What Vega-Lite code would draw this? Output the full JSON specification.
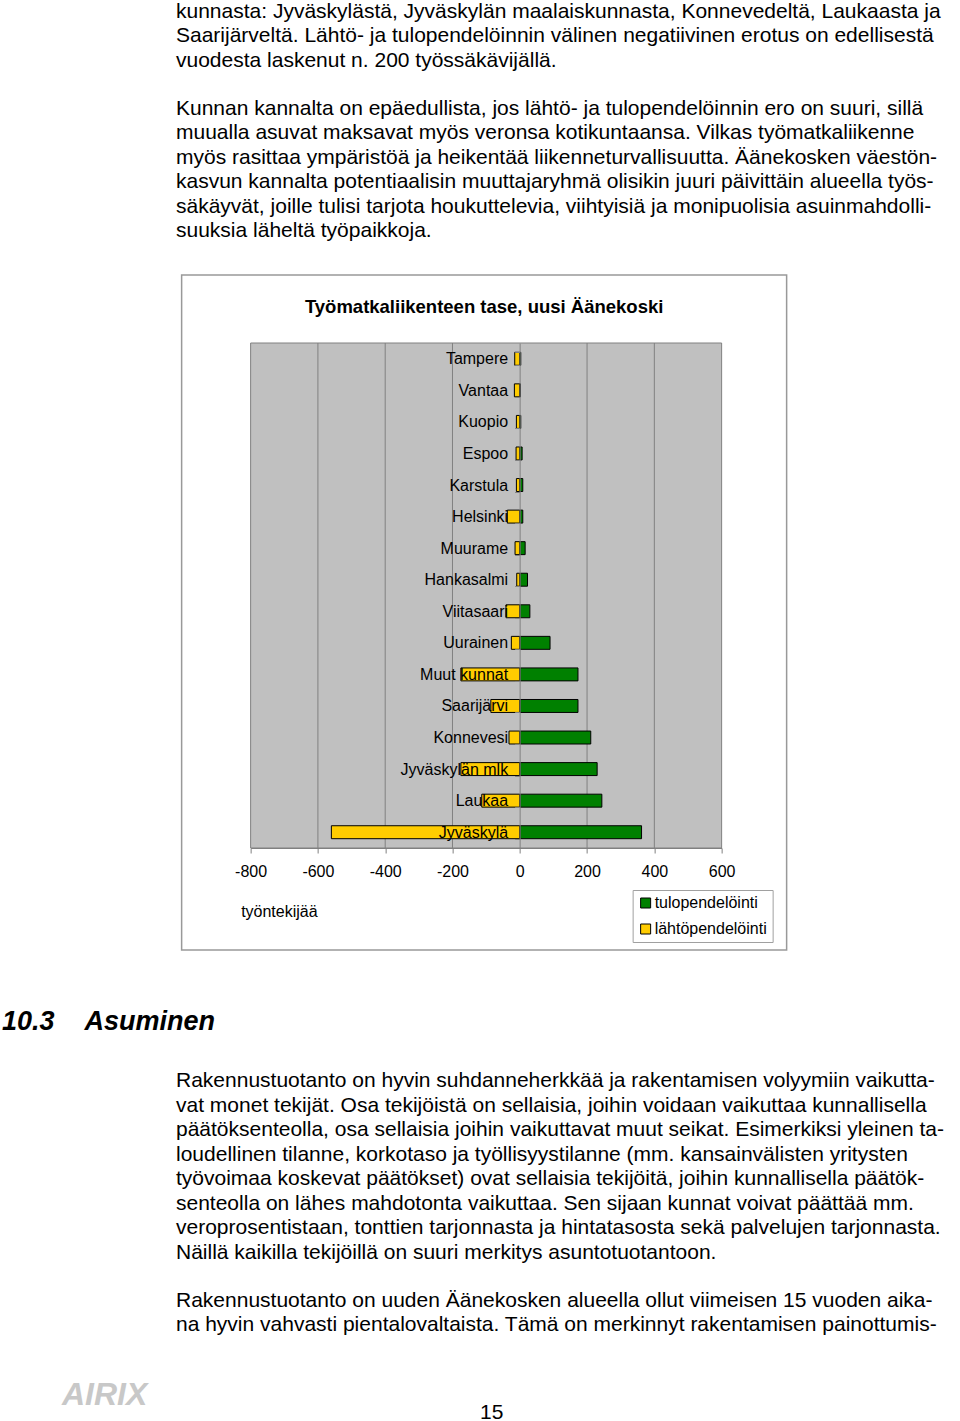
{
  "$schema": "https://vega.github.io/schema/vega-lite/v6.json",
  "background": "white",
  "padding": 0,
  "spacing": 0,
  "center": true,
  "resolve": {"scale": {"color": "independent"}, "legend": {"color": "independent"}},
  "config": {
    "font": "Liberation Sans",
    "view": {"stroke": null},
    "title": {"color": "black", "subtitleColor": "black", "fontWeight": "normal"}
  },
  "vconcat": [
    {
      "width": 960,
      "height": 25,
      "data": {"values": []},
      "mark": "text",
      "encoding": {},
      "title": {
        "text": [
          "kunnasta: Jyväskylästä, Jyväskylän maalaiskunnasta, Konnevedeltä, Laukaasta ja",
          "Saarijärveltä. Lähtö- ja tulopendelöinnin välinen negatiivinen erotus on edellisestä",
          "vuodesta laskenut n. 200 työssäkävijällä."
        ],
        "subtitle": [
          "Kunnan kannalta on epäedullista, jos lähtö- ja tulopendelöinnin ero on suuri, sillä",
          "muualla asuvat maksavat myös veronsa kotikuntaansa. Vilkas työmatkaliikenne",
          "myös rasittaa ympäristöä ja heikentää liikenneturvallisuutta. Äänekosken väestön-",
          "kasvun kannalta potentiaalisin muuttajaryhmä olisikin juuri päivittäin alueella työs-",
          "säkäyvät, joille tulisi tarjota houkuttelevia, viihtyisiä ja monipuolisia asuinmahdolli-",
          "suuksia läheltä työpaikkoja."
        ],
        "orient": "top",
        "anchor": "start",
        "frame": "group",
        "dx": 176,
        "offset": 0,
        "fontSize": 21,
        "lineHeight": 24.5,
        "subtitleFontSize": 21,
        "subtitleLineHeight": 24.5,
        "subtitlePadding": 27
      }
    },
    {
      "spacing": 0,
      "resolve": {"scale": {"color": "independent"}, "legend": {"color": "independent"}},
      "hconcat": [
        {
          "width": 8,
          "height": 1,
          "data": {"values": []},
          "mark": "text",
          "encoding": {}
        },
        {
          "width": 605,
          "height": 675,
          "view": {"stroke": "#999999", "strokeWidth": 1.5},
          "title": {
            "text": "Työmatkaliikenteen tase, uusi Äänekoski",
            "orient": "top",
            "anchor": "middle",
            "offset": -49,
            "fontSize": 18.5,
            "fontWeight": "bold"
          },
          "layer": [
            {
              "data": {"values": [{"alue": "kuvaaja"}]},
              "mark": {"type": "rect", "fill": "#c0c0c0", "stroke": "#808080", "strokeWidth": 1},
              "encoding": {
                "x": {"datum": -800, "type": "quantitative", "scale": {"domain": [-800, 600], "range": [69, 540], "nice": false, "zero": false}},
                "x2": {"datum": 600},
                "y": {"datum": 0, "type": "quantitative", "scale": {"domain": [0, 1], "range": [573, 68]}, "axis": null},
                "y2": {"datum": 1}
              }
            },
            {
              "data": {"values": [{"raja": -600}, {"raja": -400}, {"raja": -200}, {"raja": 200}, {"raja": 400}]},
              "mark": {"type": "rule", "stroke": "#808080", "strokeWidth": 1},
              "encoding": {
                "x": {"field": "raja", "type": "quantitative", "scale": {"domain": [-800, 600], "range": [69, 540], "nice": false, "zero": false}},
                "y": {"datum": 0, "type": "quantitative", "scale": {"domain": [0, 1], "range": [573, 68]}, "axis": null},
                "y2": {"datum": 1}
              }
            },
            {
              "data": {
                "values": [
                  {"kunta": "Tampere", "suunta": "tulopendelöinti", "tyontekijat": 3},
                  {"kunta": "Tampere", "suunta": "lähtöpendelöinti", "tyontekijat": -15},
                  {"kunta": "Vantaa", "suunta": "tulopendelöinti", "tyontekijat": 2},
                  {"kunta": "Vantaa", "suunta": "lähtöpendelöinti", "tyontekijat": -16},
                  {"kunta": "Kuopio", "suunta": "tulopendelöinti", "tyontekijat": 3},
                  {"kunta": "Kuopio", "suunta": "lähtöpendelöinti", "tyontekijat": -10},
                  {"kunta": "Espoo", "suunta": "tulopendelöinti", "tyontekijat": 7},
                  {"kunta": "Espoo", "suunta": "lähtöpendelöinti", "tyontekijat": -11},
                  {"kunta": "Karstula", "suunta": "tulopendelöinti", "tyontekijat": 9},
                  {"kunta": "Karstula", "suunta": "lähtöpendelöinti", "tyontekijat": -10},
                  {"kunta": "Helsinki", "suunta": "tulopendelöinti", "tyontekijat": 9},
                  {"kunta": "Helsinki", "suunta": "lähtöpendelöinti", "tyontekijat": -37},
                  {"kunta": "Muurame", "suunta": "tulopendelöinti", "tyontekijat": 16},
                  {"kunta": "Muurame", "suunta": "lähtöpendelöinti", "tyontekijat": -14},
                  {"kunta": "Hankasalmi", "suunta": "tulopendelöinti", "tyontekijat": 23},
                  {"kunta": "Hankasalmi", "suunta": "lähtöpendelöinti", "tyontekijat": -9},
                  {"kunta": "Viitasaari", "suunta": "tulopendelöinti", "tyontekijat": 30},
                  {"kunta": "Viitasaari", "suunta": "lähtöpendelöinti", "tyontekijat": -41},
                  {"kunta": "Uurainen", "suunta": "tulopendelöinti", "tyontekijat": 90},
                  {"kunta": "Uurainen", "suunta": "lähtöpendelöinti", "tyontekijat": -25},
                  {"kunta": "Muut kunnat", "suunta": "tulopendelöinti", "tyontekijat": 173},
                  {"kunta": "Muut kunnat", "suunta": "lähtöpendelöinti", "tyontekijat": -175},
                  {"kunta": "Saarijärvi", "suunta": "tulopendelöinti", "tyontekijat": 173},
                  {"kunta": "Saarijärvi", "suunta": "lähtöpendelöinti", "tyontekijat": -86},
                  {"kunta": "Konnevesi", "suunta": "tulopendelöinti", "tyontekijat": 211},
                  {"kunta": "Konnevesi", "suunta": "lähtöpendelöinti", "tyontekijat": -32},
                  {"kunta": "Jyväskylän mlk", "suunta": "tulopendelöinti", "tyontekijat": 230},
                  {"kunta": "Jyväskylän mlk", "suunta": "lähtöpendelöinti", "tyontekijat": -175},
                  {"kunta": "Laukaa", "suunta": "tulopendelöinti", "tyontekijat": 244},
                  {"kunta": "Laukaa", "suunta": "lähtöpendelöinti", "tyontekijat": -113},
                  {"kunta": "Jyväskylä", "suunta": "tulopendelöinti", "tyontekijat": 362},
                  {"kunta": "Jyväskylä", "suunta": "lähtöpendelöinti", "tyontekijat": -560}
                ]
              },
              "mark": {"type": "bar", "stroke": "black", "strokeWidth": 1},
              "encoding": {
                "y": {
                  "field": "kunta",
                  "type": "nominal",
                  "sort": ["Tampere", "Vantaa", "Kuopio", "Espoo", "Karstula", "Helsinki", "Muurame", "Hankasalmi", "Viitasaari", "Uurainen", "Muut kunnat", "Saarijärvi", "Konnevesi", "Jyväskylän mlk", "Laukaa", "Jyväskylä"],
                  "scale": {"range": [68, 573], "paddingInner": 0.59, "paddingOuter": 0.295},
                  "axis": {
                    "orient": "left",
                    "offset": -338,
                    "title": null,
                    "zindex": 1,
                    "domainColor": "#808080",
                    "tickColor": "#808080",
                    "tickSize": 5,
                    "tickBand": "extent",
                    "labelFontSize": 16,
                    "labelColor": "black",
                    "labelPadding": 7,
                    "labelLimit": 300
                  }
                },
                "x": {
                  "field": "tyontekijat",
                  "type": "quantitative",
                  "scale": {"domain": [-800, 600], "range": [69, 540], "nice": false, "zero": false},
                  "axis": {
                    "orient": "bottom",
                    "offset": -102,
                    "values": [-800, -600, -400, -200, 0, 200, 400, 600],
                    "labelExpr": "datum.value < 0 ? '-' + abs(datum.value) : '' + datum.value",
                    "labelFlush": false,
                    "labelOverlap": false,
                    "grid": false,
                    "domainColor": "#808080",
                    "tickColor": "#808080",
                    "tickSize": 5,
                    "labelFontSize": 16,
                    "labelColor": "black",
                    "labelPadding": 10,
                    "title": "työntekijää",
                    "titleFontSize": 16,
                    "titleFontWeight": "normal",
                    "titleColor": "black",
                    "titleX": 59,
                    "titleY": 55,
                    "titleAlign": "left",
                    "titleBaseline": "top"
                  }
                },
                "x2": {"datum": 0},
                "color": {
                  "field": "suunta",
                  "type": "nominal",
                  "scale": {"domain": ["tulopendelöinti", "lähtöpendelöinti"], "range": ["#008000", "#ffcc00"]},
                  "legend": {
                    "orient": "none",
                    "legendX": 451,
                    "legendY": 615,
                    "title": null,
                    "direction": "vertical",
                    "strokeColor": "#a0a0a0",
                    "fillColor": "white",
                    "padding": 5,
                    "symbolType": "square",
                    "symbolSize": 100,
                    "symbolStrokeColor": "black",
                    "symbolStrokeWidth": 1,
                    "labelFontSize": 16,
                    "labelColor": "black",
                    "labelOffset": 1,
                    "rowPadding": 10
                  }
                }
              }
            }
          ],
          "resolve": {"scale": {"y": "independent"}}
        }
      ]
    },
    {
      "width": 960,
      "height": 58,
      "data": {"values": []},
      "mark": "text",
      "encoding": {},
      "title": {
        "text": "10.3\u00a0\u00a0\u00a0\u00a0Asuminen",
        "orient": "bottom",
        "anchor": "start",
        "frame": "group",
        "dx": 2,
        "offset": 0,
        "fontSize": 27,
        "fontWeight": "bold",
        "fontStyle": "italic"
      }
    },
    {
      "width": 960,
      "height": 35,
      "data": {"values": []},
      "mark": "text",
      "encoding": {},
      "title": {
        "text": [
          "Rakennustuotanto on hyvin suhdanneherkkää ja rakentamisen volyymiin vaikutta-",
          "vat monet tekijät. Osa tekijöistä on sellaisia, joihin voidaan vaikuttaa kunnallisella",
          "päätöksenteolla, osa sellaisia joihin vaikuttavat muut seikat. Esimerkiksi yleinen ta-",
          "loudellinen tilanne, korkotaso ja työllisyystilanne (mm. kansainvälisten yritysten",
          "työvoimaa koskevat päätökset) ovat sellaisia tekijöitä, joihin kunnallisella päätök-",
          "senteolla on lähes mahdotonta vaikuttaa. Sen sijaan kunnat voivat päättää mm.",
          "veroprosentistaan, tonttien tarjonnasta ja hintatasosta sekä palvelujen tarjonnasta.",
          "Näillä kaikilla tekijöillä on suuri merkitys asuntotuotantoon."
        ],
        "subtitle": [
          "Rakennustuotanto on uuden Äänekosken alueella ollut viimeisen 15 vuoden aika-",
          "na hyvin vahvasti pientalovaltaista. Tämä on merkinnyt rakentamisen painottumis-"
        ],
        "orient": "bottom",
        "anchor": "start",
        "frame": "group",
        "dx": 176,
        "offset": 0,
        "fontSize": 21,
        "lineHeight": 24.5,
        "subtitleFontSize": 21,
        "subtitleLineHeight": 24.5,
        "subtitlePadding": 27
      }
    },
    {
      "spacing": 0,
      "hconcat": [
        {
          "width": 300,
          "height": 45,
          "data": {"values": []},
          "mark": "text",
          "encoding": {},
          "title": {
            "text": "AIRIX",
            "orient": "bottom",
            "anchor": "start",
            "frame": "group",
            "dx": 62,
            "offset": 0,
            "fontSize": 32,
            "fontWeight": "bold",
            "fontStyle": "italic",
            "color": "#c8c8c8"
          }
        },
        {
          "width": 660,
          "height": 67,
          "data": {"values": []},
          "mark": "text",
          "encoding": {},
          "title": {
            "text": "15",
            "orient": "bottom",
            "anchor": "start",
            "frame": "group",
            "dx": 180,
            "offset": 0,
            "fontSize": 21
          }
        }
      ]
    }
  ]
}
